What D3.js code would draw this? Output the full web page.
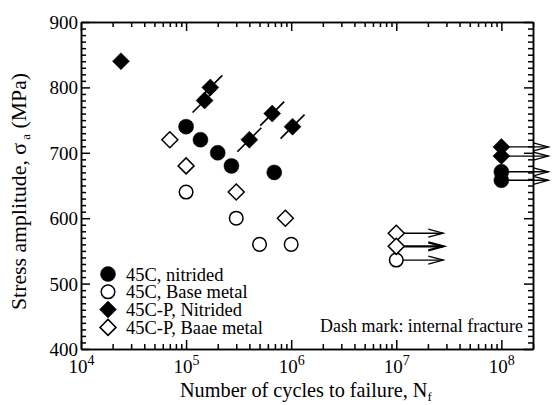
<!DOCTYPE html>
<html>
<head>
<meta charset="utf-8">
<script src="https://cdn.jsdelivr.net/npm/d3@7"></script>
<style>
  body { margin: 0; background: #fff; }
  text { font-family: "Liberation Serif", "Times New Roman", serif; fill: #000; }
</style>
</head>
<body>
<div id="sn_plot"></div>
<script>
// data: [cycles, stress MPa]
var nitrided45C = [[1e5, 740], [1.37e5, 720], [2e5, 700], [2.7e5, 680], [6.9e5, 670]];
var nitrided45CRunout = [[1e8, 671], [1e8, 658]];
var base45C = [[1e5, 640], [3e5, 600], [5e5, 560], [1e6, 560]];
var base45CRunout = [[1e7, 536]];
var nitrided45CP = [[2.4e4, 840], [1.5e5, 780], [1.7e5, 800], [4e5, 720], [6.6e5, 760], [1.03e6, 740]];
var nitrided45CPRunout = [[1e8, 709], [1e8, 695]];
var base45CP = [[7e4, 720], [1e5, 680], [3e5, 640], [8.8e5, 600]];
var base45CPRunout = [[1e7, 577], [1e7, 557]];
// internal fracture (dash mark) points
var internalFracture = [[1.5e5, 780], [1.7e5, 800], [4e5, 720], [6.6e5, 760], [1.03e6, 740]];

var yTicks = [400, 500, 600, 700, 800, 900];
var xTicks = [1e4, 1e5, 1e6, 1e7, 1e8];
var legendLabels = ["45C, nitrided", "45C, Base metal", "45C-P, Nitrided", "45C-P, Baae metal"];

var margin = {top: 22, right: 22, bottom: 56, left: 81},
    width = 555 - margin.left - margin.right,
    height = 405 - margin.top - margin.bottom;

var svg = d3.select("#sn_plot")
    .append("svg")
      .attr("width", 555)
      .attr("height", 405)
    .append("g")
      .attr("transform", "translate(" + margin.left + "," + margin.top + ")");

var x = d3.scaleLog()
    .domain([1e4, 2e8])
    .range([0, width]);
var y = d3.scaleLinear()
    .domain([400, 900])
    .range([height, 0]);

// scale a text's font so it spans the given length (px)
function fitText(sel, target) {
  var fs = parseFloat(sel.style("font-size"));
  var len = sel.node().getComputedTextLength();
  var nfs = fs * target / len;
  sel.style("font-size", nfs + "px");
  return nfs;
}

// minor ticks
var xMinor = [];
for (var e = 4; e <= 8; e++) {
  for (var m = 2; m <= 9; m++) {
    var v = m * Math.pow(10, e);
    if (v <= 2e8) xMinor.push(v);
  }
}
var yMinor = d3.range(400, 901, 10).filter(function(d) { return d % 100 != 0; });

function styleAxis(g) {
  g.selectAll("path, line").attr("stroke", "#000").attr("stroke-width", 1.5);
  g.selectAll("text").remove();
}

// bottom
svg.append("g")
    .attr("transform", "translate(0," + height + ")")
    .call(d3.axisBottom(x).tickValues(xMinor).tickSize(-5).tickSizeOuter(0))
    .call(styleAxis);
var xAxisB = svg.append("g")
    .attr("transform", "translate(0," + height + ")")
    .call(d3.axisBottom(x).tickValues(xTicks).tickSize(-9).tickSizeOuter(0));
xAxisB.call(styleAxis);
xAxisB.selectAll(".tick")
  .append("text")
    .attr("y", 24)
    .attr("text-anchor", "middle")
    .style("font-size", "19px")
    .html(function(d) { return "10<tspan dy='-8' font-size='14px'>" + Math.round(Math.log10(d)) + "</tspan>"; });

// top
svg.append("g")
    .call(d3.axisTop(x).tickValues(xMinor).tickSize(-5).tickSizeOuter(0))
    .call(styleAxis);
svg.append("g")
    .call(d3.axisTop(x).tickValues(xTicks).tickSize(-9).tickSizeOuter(0))
    .call(styleAxis);

// left
svg.append("g")
    .call(d3.axisLeft(y).tickValues(yMinor).tickSize(-5).tickSizeOuter(0))
    .call(styleAxis);
var yAxisL = svg.append("g")
    .call(d3.axisLeft(y).tickValues(yTicks).tickSize(-9).tickSizeOuter(0));
yAxisL.call(styleAxis);
yAxisL.selectAll(".tick")
  .append("text")
    .attr("x", -3)
    .attr("dy", "0.34em")
    .attr("text-anchor", "end")
    .style("font-size", "19px")
    .text(function(d) { return d; });

// right
svg.append("g")
    .attr("transform", "translate(" + width + ",0)")
    .call(d3.axisRight(y).tickValues(yMinor).tickSize(-5).tickSizeOuter(0))
    .call(styleAxis);
svg.append("g")
    .attr("transform", "translate(" + width + ",0)")
    .call(d3.axisRight(y).tickValues(yTicks).tickSize(-9).tickSizeOuter(0))
    .call(styleAxis);

// axis titles: x spans ~180..432 px, y spans ~72..310 px in the page
var xTitle = svg.append("text")
    .attr("y", height + 48)
    .style("font-size", "20px")
    .html("Number of cycles to failure, N<tspan dy='4' font-size='13px'>f</tspan>");
fitText(xTitle, 252);
xTitle.attr("x", 180 - margin.left);

var yTitle = svg.append("text")
    .style("font-size", "20px")
    .html("Stress amplitude, σ<tspan dy='4' font-size='13px'> a</tspan><tspan dy='-4'>  (MPa)</tspan>");
fitText(yTitle, 238);
yTitle.attr("transform", "translate(" + (-55) + "," + (310 - margin.top) + ") rotate(-90)");

// run-out arrows
var arrowLen = 47;
function drawArrows(data, sw) {
  var g = svg.append("g").attr("stroke", "#000").attr("fill", "none").attr("stroke-width", sw);
  data.forEach(function(d) {
    var x0 = x(d[0]), y0 = y(d[1]), x1 = x0 + arrowLen;
    g.append("line").attr("x1", x0).attr("y1", y0).attr("x2", x1).attr("y2", y0);
    g.append("path").attr("d", "M" + (x1 - 15) + "," + (y0 - 4) + "L" + x1 + "," + y0 + "L" + (x1 - 15) + "," + (y0 + 4));
  });
}
drawArrows(base45CPRunout.slice(0, 1), 1.3);
drawArrows(base45CPRunout.slice(1), 2.2);
drawArrows(base45CRunout, 1.3);
drawArrows(nitrided45CPRunout, 1.3);
drawArrows(nitrided45CRunout, 1.3);

// dash marks for internal fracture
svg.append("g")
  .selectAll("line")
  .data(internalFracture)
  .enter()
  .append("line")
    .attr("x1", function(d) { return x(d[0]) - 12; })
    .attr("y1", function(d) { return y(d[1]) + 12; })
    .attr("x2", function(d) { return x(d[0]) + 12; })
    .attr("y2", function(d) { return y(d[1]) - 12; })
    .attr("stroke", "#000")
    .attr("stroke-width", 1.6);

var circleSym = d3.symbol().type(d3.symbolCircle);
var diamond = function(s) {
  return "M0," + (-s) + "L" + s + ",0L0," + s + "L" + (-s) + ",0Z";
};

function drawPoints(data, shape, filled) {
  svg.append("g")
    .selectAll("path")
    .data(data)
    .enter()
    .append("path")
      .attr("transform", function(d) { return "translate(" + x(d[0]) + "," + y(d[1]) + ")"; })
      .attr("d", shape)
      .attr("fill", filled ? "#000" : "#fff")
      .attr("stroke", "#000")
      .attr("stroke-width", filled ? 0.5 : 1.5);
}
var bigCircle = circleSym.size(Math.PI * 7.5 * 7.5)();
var openCircle = circleSym.size(Math.PI * 6.8 * 6.8)();
drawPoints(base45C.concat(base45CRunout), openCircle, false);
drawPoints(base45CP.concat(base45CPRunout), diamond(8), false);
drawPoints(nitrided45C.concat(nitrided45CRunout), bigCircle, true);
drawPoints(nitrided45CP.concat(nitrided45CPRunout), diamond(8.5), true);

// legend
var legendShapes = [[bigCircle, true], [openCircle, false], [diamond(8.5), true], [diamond(8), false]];
var legend = svg.append("g")
    .selectAll("g")
    .data(legendLabels)
    .enter()
    .append("g")
      .attr("transform", function(d, i) { return "translate(27," + (252 + i * 17.8) + ")"; });
legend.append("path")
    .attr("d", function(d, i) { return legendShapes[i][0]; })
    .attr("fill", function(d, i) { return legendShapes[i][1] ? "#000" : "#fff"; })
    .attr("stroke", "#000")
    .attr("stroke-width", function(d, i) { return legendShapes[i][1] ? 0.5 : 1.5; });
var legendText = legend.append("text")
    .attr("x", 18)
    .attr("dy", "0.36em")
    .style("font-size", "17px")
    .text(function(d) { return d; });
// longest label spans ~137 px in the reference
var legendFs = fitText(d3.select(legendText.nodes()[3]), 137);
legendText.style("font-size", legendFs + "px");

var dashNote = svg.append("text")
    .attr("x", width - 10)
    .attr("y", height - 17)
    .attr("text-anchor", "end")
    .style("font-size", "17px")
    .text("Dash mark: internal fracture");
fitText(dashNote, 203);
</script>
</body>
</html>
